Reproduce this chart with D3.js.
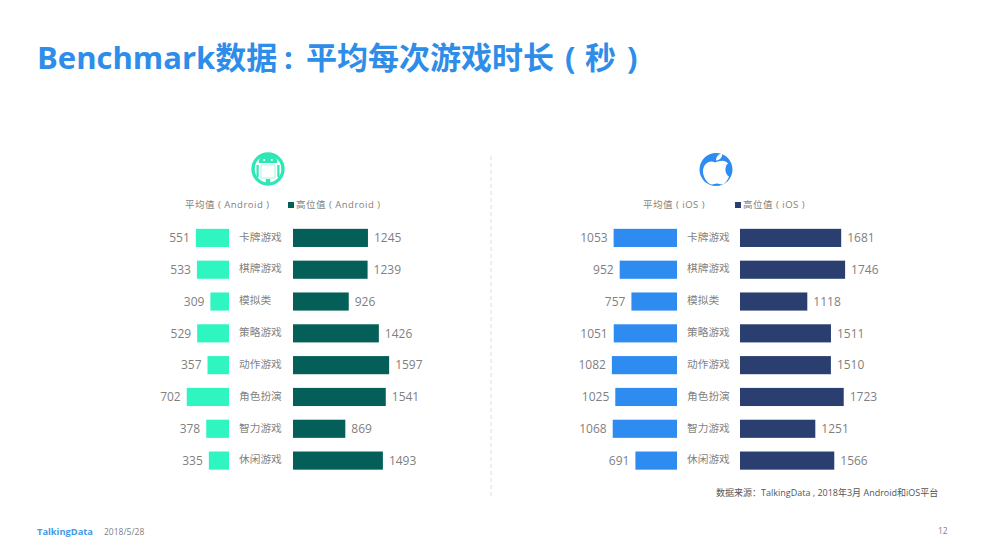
<!DOCTYPE html>
<html><head><meta charset="utf-8">
<script src="https://d3js.org/d3.v7.min.js"></script>
<style>html,body{margin:0;padding:0;background:#fff;overflow:hidden}svg{display:block}
text{font-family:"Open Sans","Noto Sans CJK SC",sans-serif}</style></head><body>
<svg id="c" width="983" height="555"></svg>
<script>
const categories = ["卡牌游戏","棋牌游戏","模拟类","策略游戏","动作游戏","角色扮演","智力游戏","休闲游戏"];
const androidAvg = [551,533,309,529,357,702,378,335];
const androidHigh = [1245,1239,926,1426,1597,1541,869,1493];
const iosAvg = [1053,952,757,1051,1082,1025,1068,691];
const iosHigh = [1681,1746,1118,1511,1510,1723,1251,1566];
const sourceText = "数据来源：TalkingData , 2018年3月 Android和iOS平台";

const svg = d3.select("#c");
const grey = "#7f7f7f";
const y = d3.scaleBand().domain(categories).range([222, 476.5]).paddingInner(0.43).paddingOuter(0.215);
const w = d3.scaleLinear().domain([0,1000]).range([0,60.2]);

const title = svg.append("text").attr("y",69).attr("font-size",31).attr("font-weight",700)
  .attr("fill","#2e8de8").attr("font-family","'Noto Sans','Noto Sans CJK SC',sans-serif");
title.append("tspan").attr("x",37).text("Benchmark数据");
title.append("tspan").attr("x",284).text(":");
title.append("tspan").attr("x",306).text("平均每次游戏时长");
title.append("tspan").attr("x",565).text("(");
title.append("tspan").attr("x",585).text("秒");
title.append("tspan").attr("x",627).text(")");

function panel(cfg){
  const g = svg.append("g");
  const rows = categories.map((c,i)=>({c,a:cfg.avg[i],h:cfg.high[i]}));
  g.selectAll(".a").data(rows).join("rect").attr("x",d=>cfg.axisL-w(d.a)).attr("y",d=>y(d.c))
    .attr("width",d=>w(d.a)).attr("height",y.bandwidth()).attr("fill",cfg.colA);
  g.selectAll(".h").data(rows).join("rect").attr("x",cfg.axisR).attr("y",d=>y(d.c))
    .attr("width",d=>w(d.h)).attr("height",y.bandwidth()).attr("fill",cfg.colH);
  g.selectAll(".la").data(rows).join("text").attr("x",d=>cfg.axisL-w(d.a)-6).attr("y",d=>y(d.c)+y.bandwidth()/2)
    .attr("dy","0.35em").attr("text-anchor","end").attr("font-size",12).attr("fill",grey).text(d=>d.a);
  g.selectAll(".lh").data(rows).join("text").attr("x",d=>cfg.axisR+w(d.h)+6).attr("y",d=>y(d.c)+y.bandwidth()/2)
    .attr("dy","0.35em").attr("font-size",12).attr("fill",grey).text(d=>d.h);
  g.selectAll(".lc").data(rows).join("text").attr("x",cfg.labelX).attr("y",d=>y(d.c)+y.bandwidth()/2-1)
    .attr("dy","0.35em").attr("font-size",10.7).attr("fill",grey).text(d=>d.c);
  g.append("text").attr("x",cfg.legA).attr("y",208).attr("font-size",9.5).attr("fill",grey).attr("letter-spacing",0.5).text(cfg.textA);
  g.append("rect").attr("x",cfg.legH).attr("y",202).attr("width",6).attr("height",6).attr("fill",cfg.colH);
  g.append("text").attr("x",cfg.legH+8).attr("y",208).attr("font-size",9.5).attr("fill",grey).attr("letter-spacing",0.5).text(cfg.textH);
}
panel({avg:androidAvg,high:androidHigh,axisL:229,axisR:293,labelX:239,colA:"#2ff5c0",colH:"#045f58",
  legA:185,legH:288,textA:"平均值 ( Android )",textH:"高位值 ( Android )"});
panel({avg:iosAvg,high:iosHigh,axisL:677,axisR:740,labelX:687,colA:"#2e8bef",colH:"#2a3f6f",
  legA:643,legH:735,textA:"平均值 ( iOS )",textH:"高位值 ( iOS )"});

svg.append("line").attr("x1",491).attr("x2",491).attr("y1",156).attr("y2",496)
  .attr("stroke","#dedede").attr("stroke-dasharray","4 3");

// Android icon
const ai = svg.append("g").attr("transform","translate(268,169)");
ai.append("circle").attr("r",15).attr("fill","none").attr("stroke","#2fe6b5").attr("stroke-width",3.4);
ai.append("path").attr("fill","#2fe6b5").attr("d","M-9.5,-6 A9.5,9 0 0 1 9.5,-6 Z M-11.5,-4 h2.2 v12 h-2.2 Z M9.3,-4 h2.2 v12 h-2.2 Z M-2.2,10 h4.4 v6 h-4.4 Z");
ai.append("path").attr("fill","none").attr("stroke","#a8f3de").attr("stroke-width",1).attr("d","M-7,-4 H7 V9 H-7 Z");
ai.append("circle").attr("cx",-3.8).attr("cy",-9).attr("r",1).attr("fill","#fff");
ai.append("circle").attr("cx",3.8).attr("cy",-9).attr("r",1).attr("fill","#fff");

// Apple icon
const ap = svg.append("g").attr("transform","translate(716,169.5)");
ap.append("circle").attr("r",16.5).attr("fill","#2e8bef");
ap.append("path").attr("fill","#fff").attr("d","M-1,-7 C-7,-10 -13,-5 -13,2 C-13,8 -8,15 -4,15 C-2,15 -1,14 1,14 C3,14 4,15 6,15 C9,15 12,10 13,7 C9,5 8,-3 12,-6 C9,-10 4,-9 -1,-7 Z");
ap.append("path").attr("fill","#fff").attr("d","M0,-9 C0,-13 3,-16 6,-16 C7,-13 4,-9 0,-9 Z");

svg.append("text").attr("x",716).attr("y",496).attr("font-size",9).attr("fill","#555")
  .attr("font-family","'Open Sans','Noto Sans CJK TC',sans-serif").text(sourceText);
svg.append("text").attr("x",37).attr("y",534.5).attr("font-size",9.3).attr("font-weight",700).attr("fill","#3f9be8")
  .attr("font-family","Lato,sans-serif").text("TalkingData");
svg.append("text").attr("x",104).attr("y",535).attr("font-size",8.5).attr("fill",grey).attr("font-family","'DejaVu Serif',serif").text("2018/5/28");
svg.append("text").attr("x",938).attr("y",534).attr("font-size",8.5).attr("fill",grey).attr("font-family","'DejaVu Serif',serif").text("12");
</script></body></html>
